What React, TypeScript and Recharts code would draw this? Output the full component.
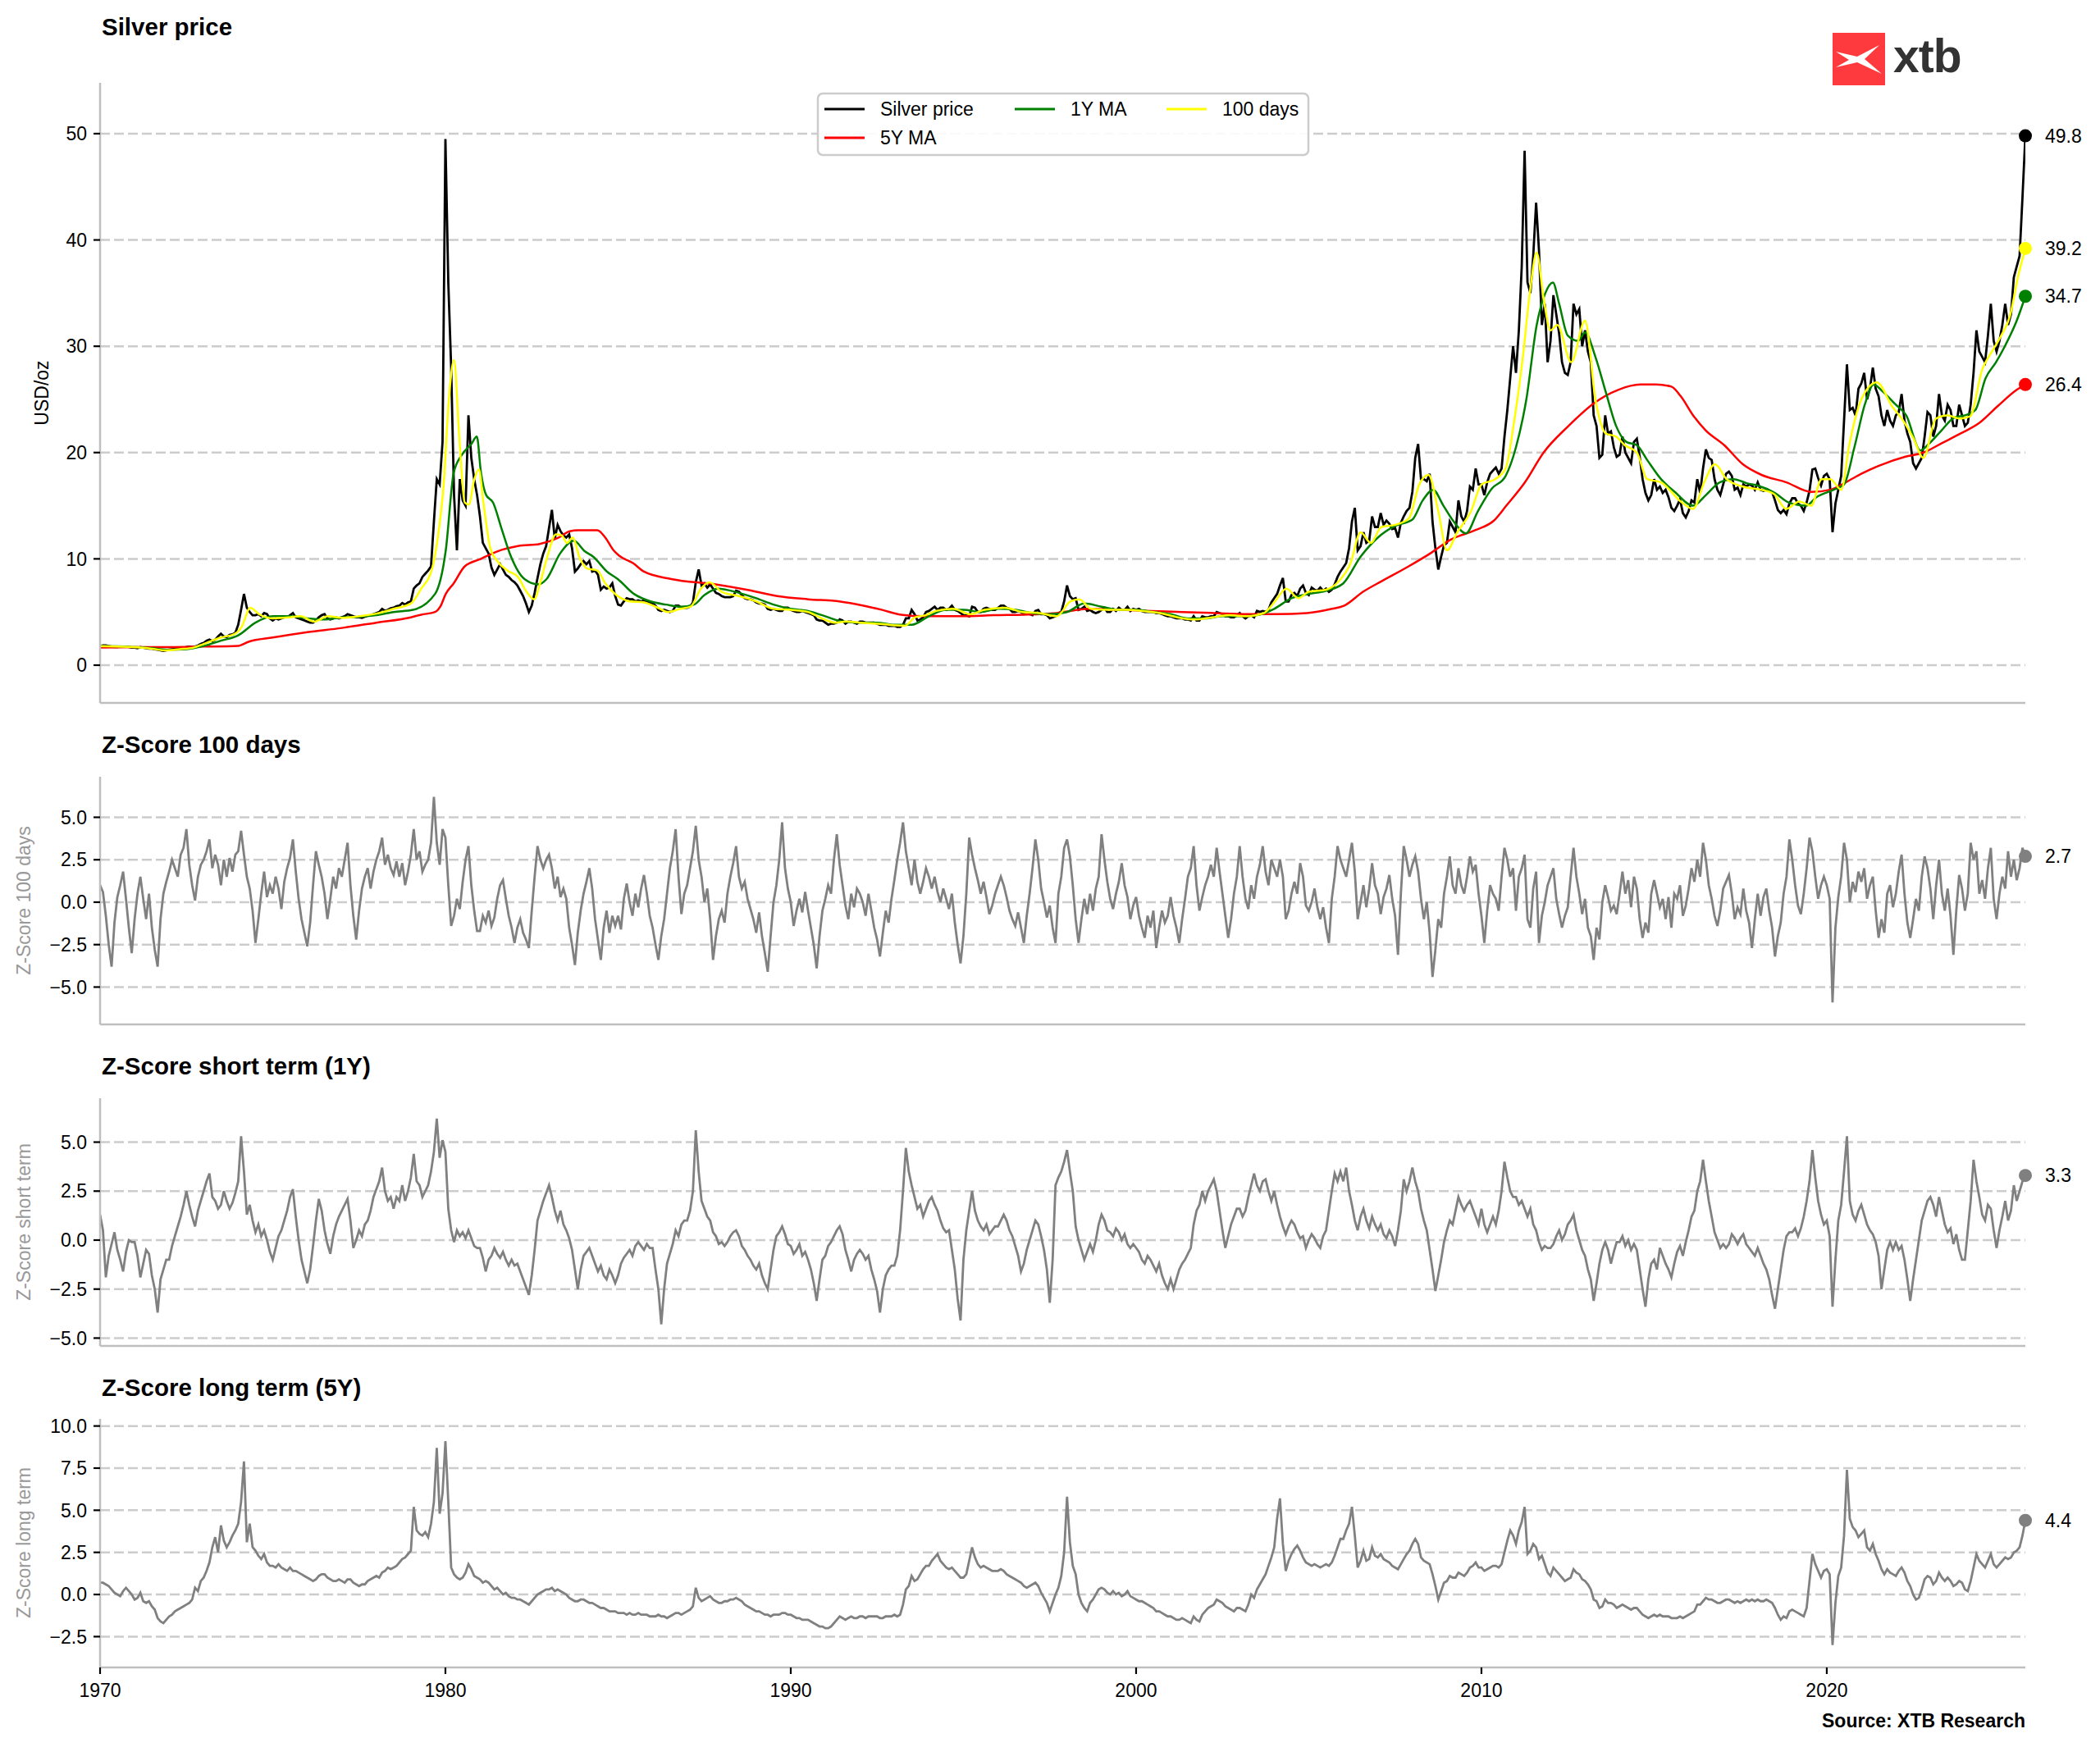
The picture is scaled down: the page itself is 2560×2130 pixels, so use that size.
import React from "react"
import { LineChart, Line, XAxis, YAxis, ReferenceLine, ReferenceDot } from "recharts"

const FONT = "'Liberation Sans', Arial, Helvetica, sans-serif"
const GRID = "#cccccc"
const SPINE = "#bfbfbf"
const ZGREY = "#808080"
const X0 = 1970
const X_END = 2025.75
const YEAR_TICKS = [1970, 1980, 1990, 2000, 2010, 2020]

// monthly silver price, Jan 1970 .. Oct 2025 (USD/oz)
const silverPrice = [
  1.8, 1.85, 1.85, 1.8, 1.75, 1.7, 1.7, 1.75, 1.75, 1.75, 1.7, 1.65, // 1970
  1.65, 1.6, 1.7, 1.65, 1.6, 1.55, 1.55, 1.5, 1.45, 1.4, 1.35, 1.4,
  1.45, 1.5, 1.55, 1.55, 1.6, 1.6, 1.7, 1.75, 1.7, 1.75, 1.85, 2.0,
  2.1, 2.3, 2.4, 2.25, 2.4, 2.7, 2.95, 2.7, 2.65, 2.85, 2.9, 3.05,
  3.8, 5.2, 6.7, 5.4, 5.0, 4.7, 4.7, 4.8, 4.6, 4.9, 4.8, 4.4,
  4.2, 4.4, 4.3, 4.4, 4.5, 4.5, 4.7, 4.9, 4.5, 4.4, 4.3, 4.2,
  4.1, 4.0, 4.0, 4.2, 4.5, 4.7, 4.8, 4.4, 4.3, 4.4, 4.5, 4.4,
  4.5, 4.6, 4.8, 4.7, 4.6, 4.5, 4.5, 4.45, 4.55, 4.65, 4.7, 4.8,
  4.9, 5.0, 5.3, 5.1, 5.2, 5.35, 5.4, 5.55, 5.6, 5.85, 5.7, 5.9,
  6.0, 7.2, 7.5, 7.7, 8.3, 8.6, 8.9, 9.3, 13.5, 17.5, 17.0, 21.0,
  49.5, 36.0, 28.0, 16.0, 10.8, 17.5, 15.5, 15.0, 23.5, 19.5, 17.5, 16.0, // 1980
  14.0, 11.5, 11.0, 10.5, 9.2, 8.5, 9.0, 9.5, 9.0, 8.5, 8.3, 8.0,
  7.8, 7.5, 7.0, 6.5, 5.8, 5.0, 5.6, 6.8, 8.2, 9.5, 10.5, 11.2,
  12.9, 14.6, 11.9, 13.2, 12.6, 12.2, 12.0, 12.3, 11.0, 8.8, 9.1, 9.5,
  9.8, 9.5, 9.8, 8.8, 8.9, 8.5, 7.1, 7.4, 7.2, 7.3, 7.7, 6.5,
  5.7, 5.6, 6.0, 6.3, 6.2, 6.2, 6.0, 6.1, 6.0, 6.1, 6.0, 5.9,
  5.8, 5.6, 5.2, 5.1, 5.2, 5.1, 5.0, 5.1, 5.6, 5.6, 5.4, 5.4,
  5.4, 5.5, 5.9, 7.8, 9.0, 7.5, 7.7, 7.3, 7.6, 7.2, 6.8, 6.7,
  6.5, 6.4, 6.4, 6.4, 6.5, 7.0, 6.9, 6.6, 6.3, 6.2, 6.2, 6.1,
  5.9, 5.8, 5.8, 5.7, 5.3, 5.2, 5.3, 5.2, 5.1, 5.1, 5.4, 5.4,
  5.2, 5.1, 5.0, 5.0, 5.1, 5.0, 4.9, 4.8, 4.7, 4.3, 4.2, 4.2, // 1990
  4.0, 3.8, 3.9, 3.9, 4.0, 4.3, 4.2, 3.9, 4.1, 4.1, 4.0, 3.9,
  4.1, 4.1, 4.0, 4.0, 4.0, 4.0, 3.9, 3.8, 3.8, 3.8, 3.7, 3.7,
  3.7, 3.6, 3.6, 3.8, 4.4, 4.4, 5.2, 4.8, 4.2, 4.3, 4.5, 5.0,
  5.1, 5.3, 5.5, 5.2, 5.4, 5.4, 5.2, 5.3, 5.6, 5.2, 5.1, 4.9,
  4.7, 4.7, 4.6, 5.5, 5.4, 5.0, 5.0, 5.3, 5.4, 5.3, 5.2, 5.2,
  5.4, 5.6, 5.6, 5.4, 5.3, 5.0, 5.0, 5.1, 5.0, 4.8, 4.9, 4.8,
  4.7, 5.1, 5.2, 4.8, 4.8, 4.7, 4.4, 4.5, 4.6, 4.9, 5.0, 6.0,
  7.5, 6.5, 6.2, 6.3, 5.2, 5.3, 5.5, 5.1, 5.2, 5.0, 4.9, 5.0,
  5.2, 5.4, 5.0, 5.0, 5.3, 5.1, 5.4, 5.2, 5.2, 5.5, 5.1, 5.3,
  5.2, 5.3, 5.1, 5.0, 5.0, 5.0, 5.0, 4.9, 4.9, 4.8, 4.7, 4.6, // 2000
  4.6, 4.5, 4.4, 4.4, 4.4, 4.3, 4.3, 4.2, 4.6, 4.2, 4.2, 4.6,
  4.5, 4.5, 4.6, 4.6, 5.0, 4.9, 4.8, 4.6, 4.6, 4.5, 4.5, 4.7,
  4.9, 4.6, 4.4, 4.6, 4.7, 4.5, 5.1, 5.0, 5.1, 5.0, 5.2, 5.9,
  6.3, 6.7, 7.5, 8.2, 6.0, 6.0, 6.6, 6.8, 6.5, 7.2, 7.5, 6.8,
  6.6, 7.3, 7.1, 7.0, 7.3, 7.0, 7.2, 6.9, 7.1, 7.6, 8.3, 8.8,
  9.2, 9.6, 11.0, 13.5, 14.8, 10.8, 11.2, 12.5, 11.5, 11.7, 14.0, 13.0,
  13.0, 14.3, 13.2, 13.6, 13.3, 12.8, 12.9, 12.0, 13.4, 14.0, 14.5, 14.8,
  16.3, 19.5, 20.8, 17.5, 17.5, 17.3, 18.0, 13.5, 11.0, 9.0, 10.2, 11.3,
  11.5, 13.5, 13.0, 12.5, 15.5, 14.0, 13.5, 14.5, 16.8, 16.5, 18.5, 17.0,
  17.0, 16.0, 17.2, 18.0, 18.3, 18.6, 18.0, 18.5, 21.5, 24.0, 27.0, 30.0, // 2010
  27.5, 31.5, 37.5, 48.4, 36.0, 35.0, 38.5, 43.5, 39.0, 32.0, 34.0, 28.5,
  30.5, 34.8, 33.0, 31.2, 28.5, 27.5, 27.3, 28.5, 34.0, 33.0, 33.5, 30.0,
  31.5, 29.5, 28.5, 23.5, 22.5, 19.5, 19.8, 23.5, 21.8, 22.0, 20.5, 19.6,
  19.8, 21.5, 20.0, 19.5, 19.0, 21.0, 21.3, 19.6, 17.5, 16.2, 15.5, 16.0,
  17.5, 16.5, 16.8, 16.2, 16.5, 15.8, 14.8, 14.5, 15.0, 15.6, 14.3, 13.9,
  14.5, 15.5, 15.3, 17.5, 16.2, 18.5, 20.3, 19.5, 19.3, 17.5, 16.5, 16.0,
  17.0, 18.0, 18.2, 17.8, 16.5, 16.7, 16.0, 17.0, 16.8, 17.0, 16.9, 16.5,
  17.2, 16.5, 16.4, 16.5, 16.4, 16.3, 15.5, 14.6, 14.3, 14.6, 14.2, 15.2,
  15.7, 15.7, 15.2, 15.0, 14.5, 15.3, 16.4, 18.4, 18.5, 17.6, 16.9, 17.8,
  18.0, 17.5, 12.5, 15.2, 16.5, 17.8, 23.0, 28.3, 24.0, 24.2, 23.5, 26.0, // 2020
  26.5, 27.5, 25.0, 26.0, 28.0, 26.0, 25.3, 23.5, 22.5, 24.0, 23.0, 22.5,
  23.5, 23.8, 25.5, 23.0, 21.8, 21.0, 19.0, 18.5, 19.0, 19.5, 21.5, 23.8,
  23.5, 21.5, 22.5, 25.5, 23.5, 23.0, 24.5, 24.0, 22.5, 22.5, 24.5, 23.5,
  22.5, 22.8, 24.5, 27.5, 31.5, 29.5, 29.0, 28.5, 31.0, 34.0, 30.5, 29.5,
  30.5, 32.0, 34.0, 32.0, 33.0, 36.5, 37.5, 38.5, 44.0, 49.8,
]

// moving averages as [year, value]
const ma100Days: [number, number][] = [
  [1970.0, 1.8], [1970.5, 1.75], [1971.0, 1.7], [1971.5, 1.55], [1971.9, 1.38], [1972.3, 1.5], [1972.7, 1.65],
  [1973.0, 2.0], [1973.5, 2.6], [1973.9, 2.95], [1974.1, 3.6], [1974.35, 5.4], [1974.6, 4.8], [1975.0, 4.4],
  [1975.5, 4.5], [1975.8, 4.6], [1976.2, 4.1], [1976.6, 4.6], [1977.0, 4.45], [1977.5, 4.6], [1978.0, 4.85],
  [1978.5, 5.3], [1979.0, 5.8], [1979.3, 7.2], [1979.6, 8.9], [1979.8, 12.5], [1979.95, 17.0], [1980.1, 25.0],
  [1980.25, 28.7], [1980.4, 21.5], [1980.56, 15.3], [1980.68, 15.1], [1980.83, 17.4], [1980.97, 18.4],
  [1981.1, 15.3], [1981.3, 11.0], [1981.5, 9.8], [1981.8, 8.9], [1982.1, 8.3], [1982.35, 6.9], [1982.57, 6.2],
  [1982.75, 7.8], [1982.95, 10.2], [1983.2, 12.3], [1983.37, 12.2], [1983.52, 11.5], [1983.68, 12.0],
  [1983.9, 10.0], [1984.1, 9.1], [1984.4, 8.9], [1984.63, 7.7], [1984.95, 6.6], [1985.35, 6.0], [1985.75, 5.9],
  [1986.15, 5.4], [1986.45, 5.0], [1986.8, 5.3], [1987.1, 5.5], [1987.4, 7.2], [1987.65, 7.8], [1988.0, 6.9],
  [1988.5, 6.5], [1989.0, 6.0], [1989.5, 5.3], [1990.0, 5.2], [1990.5, 5.0], [1990.9, 4.4], [1991.3, 4.0],
  [1991.6, 4.1], [1992.0, 4.0], [1992.5, 3.9], [1993.0, 3.75], [1993.3, 3.7], [1993.6, 4.5], [1993.9, 4.7],
  [1994.2, 5.1], [1994.7, 5.3], [1995.2, 4.8], [1995.6, 5.2], [1996.2, 5.4], [1996.7, 5.0], [1997.2, 4.9],
  [1997.7, 4.6], [1998.1, 6.0], [1998.35, 6.2], [1998.7, 5.3], [1999.2, 5.2], [1999.7, 5.2], [2000.2, 5.1],
  [2000.7, 4.9], [2001.2, 4.5], [2001.7, 4.3], [2002.2, 4.5], [2002.7, 4.7], [2003.2, 4.6], [2003.7, 4.9],
  [2004.0, 5.9], [2004.35, 7.2], [2004.7, 6.3], [2005.0, 6.9], [2005.5, 7.1], [2005.9, 8.0], [2006.2, 9.5],
  [2006.5, 12.5], [2006.8, 11.5], [2007.1, 13.0], [2007.5, 13.2], [2007.9, 13.8], [2008.2, 17.0],
  [2008.47, 17.9], [2008.75, 14.5], [2009.0, 10.8], [2009.3, 12.5], [2009.7, 14.5], [2010.0, 17.0],
  [2010.4, 17.5], [2010.7, 18.5], [2010.95, 23.0], [2011.2, 29.0], [2011.4, 35.0], [2011.6, 38.8],
  [2011.8, 34.5], [2012.0, 31.5], [2012.2, 32.0], [2012.6, 28.5], [2013.0, 32.4], [2013.3, 25.0],
  [2013.6, 21.8], [2013.9, 21.5], [2014.15, 20.7], [2014.5, 20.0], [2014.8, 17.5], [2015.2, 17.2],
  [2015.77, 15.4], [2016.13, 14.7], [2016.45, 17.2], [2016.76, 18.9], [2017.1, 17.5], [2017.57, 16.8],
  [2018.1, 16.5], [2018.47, 16.1], [2018.83, 14.7], [2019.2, 15.4], [2019.55, 15.0], [2019.85, 17.5],
  [2020.1, 17.5], [2020.42, 16.5], [2020.65, 20.7], [2021.0, 25.0], [2021.45, 26.6], [2021.9, 24.3],
  [2022.17, 23.2], [2022.5, 21.4], [2022.8, 19.5], [2023.16, 23.2], [2023.5, 23.5], [2023.85, 23.2],
  [2024.15, 23.4], [2024.5, 27.8], [2024.8, 29.6], [2025.05, 31.0], [2025.3, 32.8], [2025.55, 36.7],
  [2025.75, 39.2],
]

const ma1Y: [number, number][] = [
  [1970.0, 1.8], [1970.5, 1.78], [1971.0, 1.7], [1971.5, 1.6], [1972.0, 1.45], [1972.5, 1.5], [1973.0, 1.8],
  [1973.5, 2.3], [1974.0, 2.8], [1974.5, 4.0], [1975.0, 4.6], [1975.5, 4.6], [1976.0, 4.4], [1976.5, 4.3],
  [1977.0, 4.5], [1977.5, 4.55], [1978.0, 4.7], [1978.5, 5.0], [1979.06, 5.2], [1979.7, 6.7], [1980.01, 10.8],
  [1980.24, 18.1], [1980.48, 19.8], [1980.75, 20.8], [1980.91, 21.5], [1981.03, 18.1], [1981.18, 16.0],
  [1981.38, 15.3], [1981.62, 12.9], [1981.9, 10.2], [1982.29, 8.1], [1982.69, 7.6], [1982.93, 8.1],
  [1983.32, 10.5], [1983.72, 11.7], [1984.04, 10.7], [1984.28, 10.2], [1984.68, 8.8], [1984.99, 8.1],
  [1985.46, 6.7], [1985.94, 6.0], [1986.39, 5.7], [1986.8, 5.5], [1987.2, 5.7], [1987.5, 6.6], [1987.9, 7.2],
  [1988.5, 6.8], [1989.0, 6.3], [1989.5, 5.7], [1990.0, 5.3], [1990.5, 5.1], [1991.0, 4.6], [1991.5, 4.1],
  [1992.0, 4.0], [1992.5, 4.0], [1993.0, 3.8], [1993.5, 3.8], [1994.0, 4.6], [1994.5, 5.2], [1995.0, 5.2],
  [1995.5, 5.0], [1996.0, 5.3], [1996.5, 5.2], [1997.0, 4.9], [1997.5, 4.8], [1998.0, 5.0], [1998.5, 5.8],
  [1999.0, 5.5], [1999.5, 5.2], [2000.0, 5.2], [2000.5, 5.0], [2001.0, 4.8], [2001.5, 4.4], [2002.0, 4.4],
  [2002.5, 4.6], [2003.0, 4.6], [2003.5, 4.7], [2004.0, 5.3], [2004.5, 6.3], [2005.0, 6.7], [2005.5, 7.0],
  [2006.0, 7.7], [2006.5, 10.2], [2007.0, 12.0], [2007.5, 13.1], [2008.0, 13.7], [2008.3, 15.5],
  [2008.6, 16.5], [2008.9, 15.0], [2009.2, 13.5], [2009.55, 12.4], [2009.9, 14.5], [2010.3, 16.6],
  [2010.7, 17.8], [2011.0, 20.5], [2011.3, 25.0], [2011.6, 32.0], [2011.85, 35.0], [2012.07, 36.0],
  [2012.25, 34.0], [2012.5, 31.0], [2012.8, 30.5], [2013.0, 31.3], [2013.3, 29.0], [2013.6, 25.7],
  [2013.9, 22.5], [2014.2, 21.0], [2014.5, 20.7], [2014.8, 19.3], [2015.2, 17.5], [2015.6, 16.3],
  [2016.13, 15.0], [2016.5, 16.0], [2016.9, 17.2], [2017.3, 17.5], [2017.7, 17.1], [2018.0, 16.9],
  [2018.5, 16.2], [2018.9, 15.3], [2019.4, 15.0], [2019.7, 15.8], [2020.2, 16.5], [2020.5, 17.0],
  [2020.8, 20.5], [2021.1, 24.5], [2021.36, 26.4], [2021.6, 25.8], [2022.0, 24.5], [2022.3, 23.5],
  [2022.71, 20.2], [2022.95, 20.8], [2023.3, 22.0], [2023.7, 23.3], [2024.0, 23.5], [2024.3, 24.0],
  [2024.6, 27.0], [2024.9, 28.5], [2025.14, 29.9], [2025.5, 32.4], [2025.75, 34.7],
]

const ma5Y: [number, number][] = [
  [1970.0, 1.65], [1971.0, 1.7], [1972.0, 1.7], [1973.0, 1.75], [1974.0, 1.82], [1974.3, 2.2], [1975.0, 2.6],
  [1976.0, 3.1], [1977.0, 3.5], [1978.0, 4.0], [1979.0, 4.5], [1979.3, 4.75], [1979.7, 5.0], [1979.85, 5.5],
  [1980.01, 6.7], [1980.24, 7.7], [1980.56, 9.3], [1981.03, 10.0], [1981.5, 10.7], [1982.1, 11.2],
  [1982.73, 11.4], [1983.28, 12.0], [1983.6, 12.6], [1983.84, 12.7], [1984.4, 12.7], [1984.63, 12.0],
  [1984.87, 10.8], [1985.03, 10.3], [1985.43, 9.6], [1985.75, 8.8], [1986.54, 8.1], [1987.82, 7.6],
  [1988.72, 7.1], [1989.61, 6.5], [1990.5, 6.2], [1991.4, 6.0], [1992.11, 5.6], [1992.65, 5.2],
  [1993.19, 4.75], [1993.9, 4.6], [1994.97, 4.6], [1995.87, 4.7], [1996.76, 4.75], [1997.7, 4.9],
  [1998.64, 5.3], [1999.54, 5.2], [2000.44, 5.1], [2001.35, 5.0], [2002.25, 4.9], [2003.15, 4.8],
  [2004.05, 4.8], [2004.95, 4.9], [2005.67, 5.3], [2006.03, 5.6], [2006.57, 6.9], [2007.11, 7.9],
  [2007.84, 9.2], [2008.56, 10.6], [2009.1, 11.8], [2009.82, 12.7], [2010.36, 13.6], [2010.72, 15.0],
  [2011.26, 17.2], [2011.8, 20.0], [2012.52, 22.5], [2013.24, 24.6], [2013.96, 25.9], [2014.6, 26.4],
  [2015.05, 26.4], [2015.5, 26.2], [2015.77, 25.3], [2016.13, 23.5], [2016.49, 22.1], [2017.03, 20.7],
  [2017.57, 18.9], [2018.11, 17.9], [2018.83, 17.2], [2019.55, 16.3], [2020.1, 16.5], [2020.55, 17.2],
  [2021.0, 18.0], [2021.54, 18.8], [2022.26, 19.6], [2022.8, 20.0], [2023.34, 20.9], [2023.88, 21.8],
  [2024.42, 22.8], [2024.96, 24.4], [2025.5, 25.9], [2025.75, 26.4],
]

// monthly z-scores, Jan 1970 .. Oct 2025
const z100Days = [
  1.0, 0.6, -0.8, -2.5, -3.8, -1.2, 0.3, 1.0, 1.8, 0.2, -1.5, -3.0, // 1970
  -1.0, 0.5, 1.5, 0.2, -1.0, 0.5, -1.5, -2.8, -3.8, -1.0, 0.5, 1.2,
  1.8, 2.5, 2.0, 1.5, 2.8, 3.2, 4.3, 2.2, 1.0, 0.1, 1.5, 2.2,
  2.5, 3.0, 3.7, 2.0, 2.8, 2.2, 1.0, 2.5, 1.5, 2.6, 1.8, 2.8,
  3.0, 4.2, 2.8, 1.5, 0.8, -0.5, -2.4, -1.0, 0.5, 1.8, 0.3, 1.0,
  0.5, 1.5, 0.8, -0.4, 1.2, 2.0, 2.6, 3.7, 1.8, 0.2, -1.0, -1.8,
  -2.6, -1.2, 1.0, 3.0, 2.2, 1.5, 0.5, -1.0, 0.2, 1.5, 0.8, 2.0,
  1.5, 2.5, 3.5, 1.0, -0.8, -2.2, -0.5, 0.8, 1.5, 2.0, 0.8, 1.8,
  2.5, 3.0, 3.8, 2.2, 2.8, 2.0, 1.6, 2.4, 1.5, 2.3, 1.0, 1.8,
  2.8, 4.3, 2.5, 3.0, 1.8, 2.2, 2.5, 3.5, 6.2, 3.5, 2.2, 4.3,
  3.8, 1.0, -1.4, -0.8, 0.2, -0.4, 1.2, 2.5, 3.3, 1.0, -0.5, -1.7, // 1980
  -1.7, -0.8, -1.2, -0.5, -1.4, -0.9, 0.2, 1.0, 1.3, 0.2, -0.8, -1.5,
  -2.4, -1.5, -1.0, -1.8, -2.2, -2.7, -0.5, 1.5, 3.3, 2.5, 2.0, 2.5,
  2.8, 2.0, 0.8, 1.5, 0.3, 0.8, 0.2, -1.5, -2.5, -3.7, -1.8, -0.5,
  0.5, 1.2, 2.0, 0.8, -1.0, -2.2, -3.4, -1.5, -0.5, -1.8, -0.8, -1.4,
  -0.8, -1.6, 0.2, 1.1, 0.0, -0.8, 0.5, -0.3, 0.8, 1.6, 0.5, -0.8,
  -1.5, -2.5, -3.4, -2.0, -1.0, 0.5, 2.0, 3.0, 4.3, 1.5, -0.7, 0.5,
  1.0, 2.0, 3.0, 4.5, 2.5, 1.5, 0.0, 0.8, -1.0, -3.4, -2.0, -1.0,
  -0.5, -1.2, 0.5, 1.5, 2.3, 3.3, 1.5, 0.8, 1.2, 0.2, -0.4, -1.0,
  -1.8, -0.6, -2.0, -3.0, -4.1, -2.0, 0.0, 1.0, 2.5, 4.7, 2.0, 0.8,
  0.0, -1.4, -0.5, 0.2, -0.6, 0.6, -0.5, -1.5, -2.5, -3.9, -2.0, -0.5, // 1990
  0.2, 1.0, 0.5, 2.5, 4.0, 2.2, 1.0, -0.2, -1.0, 0.5, -0.3, 0.8,
  0.5, 0.0, -0.8, 0.5, -0.5, -1.5, -2.2, -3.2, -1.8, -0.5, -1.2, 0.2,
  1.3, 2.5, 3.5, 4.7, 3.0, 2.0, 1.0, 2.5, 1.2, 0.5, 1.2, 2.0,
  1.5, 0.8, 1.5, 0.6, 0.0, 0.8, 0.2, -0.4, 0.5, -1.2, -2.5, -3.6,
  -2.0, 0.5, 3.8, 2.8, 2.0, 1.3, 0.5, 1.2, 0.3, -0.7, -0.2, 0.5,
  1.0, 1.5, 1.0, 0.3, -0.5, -1.0, -1.4, -0.6, -1.5, -2.4, -0.8, 0.5,
  2.0, 3.7, 2.5, 0.8, 0.0, -0.9, -0.2, -1.5, -2.4, 0.5, 1.5, 3.2,
  3.7, 2.7, 1.0, -1.0, -2.4, -1.0, 0.2, -0.7, 0.5, -0.5, 0.8, 1.5,
  4.0, 2.5, 1.2, 0.2, -0.4, 0.5, 1.2, 2.3, 1.0, 0.3, -1.0, -0.2,
  0.3, -0.8, -1.5, -2.1, -0.8, -1.5, -0.5, -2.7, -1.5, -0.5, -1.2, -0.8, // 2000
  0.3, -0.8, -1.5, -2.4, -1.0, 0.2, 1.5, 2.0, 3.3, 1.0, -0.5, 0.3,
  1.0, 1.5, 2.2, 1.5, 3.2, 1.8, 0.5, -0.8, -2.1, -1.0, 0.5, 1.5,
  3.3, 1.5, 0.2, -0.4, 1.0, 0.2, 1.5, 2.2, 3.3, 1.8, 1.0, 2.5,
  2.0, 1.5, 2.5, 1.5, -1.0, -0.5, 0.5, 1.2, 0.5, 2.3, 1.5, -0.2,
  -0.5, 0.0, 0.8, -0.3, -1.0, -0.3, -1.5, -2.4, 0.2, 1.5, 3.3, 2.5,
  2.0, 1.5, 2.5, 3.5, 1.8, -1.0, 0.0, 1.0, -0.3, 0.8, 2.3, 1.0,
  0.5, -0.7, 0.3, 0.8, 1.6, 0.2, -0.8, -3.1, 0.5, 3.3, 2.5, 1.5,
  2.2, 2.7, 1.8, 0.2, -1.0, 0.0, -1.8, -4.4, -2.8, -1.0, -1.5, 0.5,
  1.5, 2.7, 1.0, 0.5, 2.0, 1.0, 0.5, 1.5, 2.7, 1.8, 2.2, 0.5,
  -0.8, -2.4, -0.5, 1.0, 0.5, 0.2, -0.5, 1.5, 3.2, 2.5, 1.5, 2.0, // 2010
  -0.5, 1.5, 2.0, 2.8, -1.0, -1.5, 0.8, 1.8, -2.4, -0.8, 0.0, 1.0,
  1.5, 2.0, 0.2, -0.7, -1.5, -0.8, -0.3, 1.5, 3.2, 1.5, 0.5, -0.7,
  0.2, -1.5, -2.0, -3.4, -1.5, -2.2, 0.0, 1.0, 0.3, -0.5, -0.2, -0.7,
  0.5, 1.8, 0.5, 1.3, -0.3, 1.5, 0.8, -1.0, -2.1, -1.2, -1.8, 0.5,
  1.3, 0.5, -0.3, 0.2, -1.0, 0.3, -1.5, 0.5, 0.2, 1.0, -0.8, -0.2,
  0.8, 2.0, 1.2, 2.5, 1.5, 3.5, 2.5, 1.0, 0.2, -0.8, -1.4, -0.5,
  0.8, 1.2, 1.6, 0.5, -1.0, -0.3, -0.7, 0.8, -0.5, -1.2, -2.7, -1.0,
  0.5, -0.8, 0.3, 0.8, -0.5, -1.5, -3.2, -2.0, -1.2, 0.5, 1.5, 3.7,
  2.5, 1.0, -0.2, -0.7, 0.5, 2.0, 3.8, 3.0, 1.5, 0.2, 1.0, 1.5,
  1.0, 0.2, -5.9, -1.5, 0.3, 1.5, 3.5, 2.5, 0.0, 1.2, 0.6, 1.8, // 2020
  1.2, 2.0, 0.2, 1.0, 1.5, -0.5, -2.1, -1.0, -1.8, 0.5, 1.0, -0.3,
  0.5, 1.8, 2.8, 0.5, -1.2, -2.1, -1.0, 0.2, -0.5, 1.5, 2.7, 2.0,
  0.8, -1.0, 1.0, 2.5, 0.5, -0.5, 0.8, -0.8, -3.1, -0.5, 1.6, 0.8,
  -0.5, 0.5, 3.5, 2.5, 3.0, 0.5, 1.3, 0.2, 2.0, 3.2, 0.2, -1.0,
  0.5, 1.5, 0.8, 3.0, 1.5, 2.5, 1.3, 2.0, 3.2, 2.7,
]

const zShortTerm = [
  1.3, 0.5, -1.9, -0.8, -0.2, 0.4, -0.5, -1.0, -1.6, -0.6, 0.0, -0.1, // 1970
  -0.1, -0.8, -1.9, -1.2, -0.5, -0.7, -1.8, -2.5, -3.7, -2.0, -1.5, -1.0,
  -1.0, -0.3, 0.2, 0.7, 1.2, 1.8, 2.5, 1.8, 1.2, 0.7, 1.5, 2.0,
  2.5, 3.0, 3.4, 2.2, 2.0, 1.6, 1.8, 2.5, 2.0, 1.6, 1.9, 2.4,
  3.0, 5.3, 3.5, 1.3, 1.8, 1.0, 0.4, 0.8, 0.2, 0.5, 0.0, -0.6,
  -1.0, -0.4, 0.2, 0.5, 1.0, 1.5, 2.2, 2.6, 1.2, 0.0, -1.0, -1.6,
  -2.2, -1.5, -0.3, 1.0, 2.1, 1.5, 0.5, -0.2, -0.7, 0.2, 0.8, 1.2,
  1.5, 1.8, 2.1, 1.0, -0.4, 0.0, 0.5, 0.2, 0.8, 1.0, 1.5, 2.2,
  2.6, 3.0, 3.7, 2.5, 2.0, 2.2, 1.6, 2.2, 2.0, 2.8, 2.0, 2.5,
  3.2, 4.4, 3.0, 2.8, 2.2, 2.5, 2.8, 3.5, 4.5, 6.2, 4.2, 5.1,
  4.5, 1.6, 0.5, -0.1, 0.5, 0.2, 0.4, 0.1, 0.5, 0.1, -0.3, -0.4, // 1980
  -0.4, -0.9, -1.6, -1.0, -0.8, -0.4, -0.7, -0.9, -0.6, -1.0, -1.3, -1.0,
  -1.3, -1.2, -1.6, -2.0, -2.4, -2.8, -1.8, -0.5, 1.0, 1.5, 2.0, 2.4,
  2.8, 2.2, 1.5, 1.0, 1.5, 0.8, 0.5, 0.1, -0.5, -1.5, -2.5, -1.5,
  -0.8, -0.6, -0.4, -0.8, -1.2, -1.6, -1.3, -1.8, -2.0, -1.5, -1.8, -2.2,
  -1.8, -1.2, -0.9, -0.7, -0.5, -0.8, -0.3, -0.1, -0.3, -0.5, -0.2, -0.4,
  -0.4, -1.5, -2.5, -4.3, -2.5, -1.2, -0.7, -0.2, 0.5, 0.2, 0.8, 1.0,
  1.0, 1.5, 2.5, 5.6, 3.5, 2.0, 1.6, 1.2, 1.0, 0.4, 0.2, -0.2,
  -0.1, -0.3, -0.1, 0.2, 0.4, 0.5, 0.2, -0.3, -0.5, -0.8, -1.0, -1.3,
  -1.5, -1.2, -1.8, -2.2, -2.5, -1.5, -0.5, 0.2, 0.4, 0.7, 0.3, -0.2,
  -0.3, -0.7, -0.5, -0.2, -0.8, -0.6, -1.0, -1.5, -2.2, -3.1, -2.0, -1.0, // 1990
  -0.8, -0.3, -0.1, 0.2, 0.5, 0.7, 0.3, -0.5, -1.0, -1.6, -1.0, -0.7,
  -0.5, -0.7, -1.0, -0.8, -1.5, -2.0, -2.6, -3.7, -2.5, -1.8, -1.5, -1.3,
  -1.3, -0.8, 0.5, 2.5, 4.7, 3.5, 2.8, 2.2, 1.6, 1.8, 1.2, 1.6,
  2.0, 2.2, 1.8, 1.5, 1.0, 0.6, 0.4, 0.5, -0.5, -1.5, -3.0, -4.1,
  -1.0, 0.5, 1.5, 2.5, 1.5, 1.0, 0.7, 0.5, 0.8, 0.3, 0.5, 0.7,
  0.7, 1.0, 1.3, 1.0, 0.5, 0.2, -0.3, -0.8, -1.6, -1.2, -0.5, 0.0,
  0.5, 1.0, 0.8, 0.2, -0.5, -1.5, -3.2, -1.0, 2.8, 3.2, 3.5, 4.0,
  4.6, 3.5, 2.5, 0.7, 0.0, -0.5, -1.0, -0.6, -0.2, -0.6, 0.0, 0.8,
  1.3, 1.0, 0.5, 0.4, 0.2, 0.6, 0.4, 0.0, 0.3, -0.2, -0.4, -0.2,
  -0.4, -0.6, -1.0, -1.2, -0.8, -1.0, -1.3, -1.6, -1.2, -1.8, -2.2, -2.5, // 2000
  -2.0, -2.5, -2.0, -1.5, -1.2, -1.0, -0.7, -0.4, 0.8, 1.5, 1.8, 2.5,
  2.0, 2.5, 2.8, 3.1, 2.5, 1.5, 0.5, -0.4, 0.2, 0.8, 1.2, 1.6,
  1.6, 1.2, 1.5, 2.2, 2.8, 3.4, 2.8, 2.5, 3.0, 3.1, 2.5, 2.0,
  2.5, 1.8, 1.2, 0.7, 0.3, 0.7, 1.0, 0.8, 0.4, 0.1, 0.2, -0.4,
  0.0, 0.3, 0.1, -0.2, -0.4, 0.2, 0.5, 1.5, 2.5, 3.4, 3.0, 3.5,
  3.0, 3.7, 2.5, 1.8, 1.0, 0.5, 1.2, 1.6, 1.0, 0.6, 1.2, 0.8,
  0.5, 0.8, 0.3, 0.1, 0.5, 0.2, -0.3, 0.5, 1.5, 3.1, 2.5, 3.0,
  3.7, 3.0, 2.5, 1.6, 1.0, 0.5, -0.5, -1.5, -2.6, -1.8, -1.0, -0.1,
  0.5, 1.0, 0.8, 1.5, 2.2, 1.8, 1.5, 1.8, 2.0, 1.6, 1.2, 0.8,
  1.6, 0.8, 0.4, 0.8, 1.2, 0.8, 1.5, 2.5, 4.0, 3.2, 2.5, 2.2, // 2010
  2.2, 1.8, 2.0, 1.6, 1.2, 1.6, 0.8, 0.5, -0.1, -0.5, -0.3, -0.4,
  -0.4, -0.2, 0.2, 0.5, 0.0, 0.3, 0.8, 1.0, 1.3, 0.5, 0.0, -0.5,
  -0.8, -1.5, -2.0, -3.1, -2.2, -1.2, -0.5, -0.1, -0.5, -1.2, -0.6, -0.1,
  -0.1, 0.2, -0.3, 0.0, -0.5, -0.2, -0.5, -1.5, -2.5, -3.4, -2.0, -1.2,
  -1.0, -1.5, -0.4, -0.8, -1.2, -1.5, -1.9, -1.2, -0.6, -0.3, -0.8, -0.1,
  0.5, 1.2, 1.5, 2.5, 3.0, 4.1, 3.0, 2.0, 1.2, 0.4, 0.0, -0.4,
  -0.2, -0.4, -0.2, 0.3, 0.1, -0.2, 0.1, 0.3, -0.2, -0.4, -0.6, -0.8,
  -0.4, -0.8, -1.2, -1.5, -2.0, -2.8, -3.5, -2.5, -1.5, -0.5, 0.2, 0.4,
  0.4, 0.6, 0.2, 0.6, 1.2, 2.0, 3.0, 4.6, 3.2, 2.0, 1.3, 0.8,
  1.0, 0.2, -3.4, -1.0, 1.0, 1.8, 3.5, 5.3, 2.0, 1.3, 1.0, 1.5, // 2020
  1.8, 1.3, 0.8, 0.5, 0.3, -0.1, -0.8, -2.5, -1.5, -0.5, -0.1, -0.5,
  -0.1, -0.5, -0.3, -1.0, -2.0, -3.1, -2.0, -1.0, 0.0, 1.0, 1.5, 2.0,
  2.2, 1.8, 1.2, 2.2, 1.5, 0.8, 0.4, 0.6, -0.2, 0.3, -0.5, -1.0,
  -1.0, 0.5, 2.0, 4.1, 3.0, 2.2, 1.3, 1.0, 1.8, 1.6, 0.5, -0.4,
  0.5, 1.2, 2.0, 1.0, 1.5, 2.8, 2.0, 2.5, 3.0, 3.3,
]

const zLongTerm = [
  0.7, 0.7, 0.6, 0.5, 0.3, 0.1, 0.0, -0.1, 0.2, 0.4, 0.2, 0.0, // 1970
  -0.3, -0.2, 0.1, -0.4, -0.5, -0.4, -0.7, -0.9, -1.4, -1.6, -1.7, -1.5,
  -1.3, -1.2, -1.0, -0.9, -0.8, -0.7, -0.6, -0.5, -0.3, 0.4, 0.2, 0.8,
  1.0, 1.4, 1.9, 2.8, 3.4, 2.5, 4.1, 3.2, 2.8, 3.1, 3.5, 3.8,
  4.2, 5.5, 7.9, 3.1, 4.2, 2.8, 2.6, 2.3, 2.1, 2.4, 1.9, 1.7,
  1.7, 1.6, 1.8, 1.6, 1.5, 1.4, 1.6, 1.4, 1.4, 1.3, 1.2, 1.1,
  1.0, 0.9, 0.8, 0.9, 1.1, 1.2, 1.2, 1.0, 0.9, 0.8, 0.8, 0.9,
  0.8, 0.7, 0.9, 0.9, 0.7, 0.6, 0.5, 0.6, 0.6, 0.8, 0.9, 1.0,
  1.1, 1.0, 1.3, 1.4, 1.6, 1.5, 1.6, 1.7, 1.9, 2.1, 2.2, 2.4,
  2.6, 5.2, 3.8, 3.6, 3.5, 3.7, 3.4, 4.2, 5.5, 8.7, 4.8, 6.0,
  9.1, 5.5, 1.6, 1.2, 1.0, 0.9, 1.0, 1.3, 1.8, 1.5, 1.1, 1.0, // 1980
  0.9, 0.7, 0.8, 0.7, 0.5, 0.3, 0.4, 0.2, 0.0, 0.1, -0.1, -0.2,
  -0.2, -0.3, -0.3, -0.4, -0.5, -0.6, -0.4, -0.2, 0.0, 0.1, 0.2, 0.3,
  0.3, 0.4, 0.2, 0.3, 0.2, 0.1, 0.0, -0.2, -0.3, -0.4, -0.4, -0.3,
  -0.3, -0.4, -0.5, -0.5, -0.6, -0.7, -0.8, -0.8, -0.9, -1.0, -1.0, -1.0,
  -1.1, -1.1, -1.1, -1.2, -1.1, -1.2, -1.2, -1.1, -1.2, -1.2, -1.2, -1.3,
  -1.3, -1.3, -1.2, -1.3, -1.3, -1.4, -1.3, -1.2, -1.1, -1.1, -1.2, -1.1,
  -1.0, -0.9, -0.7, 0.4, -0.2, -0.4, -0.3, -0.2, -0.1, -0.3, -0.4, -0.5,
  -0.5, -0.4, -0.4, -0.3, -0.3, -0.2, -0.3, -0.4, -0.6, -0.7, -0.8, -0.9,
  -1.0, -1.0, -1.1, -1.2, -1.2, -1.3, -1.2, -1.2, -1.2, -1.1, -1.1, -1.2,
  -1.2, -1.3, -1.4, -1.4, -1.5, -1.5, -1.5, -1.6, -1.7, -1.8, -1.9, -1.9, // 1990
  -2.0, -2.0, -1.9, -1.7, -1.5, -1.3, -1.4, -1.5, -1.4, -1.3, -1.4, -1.4,
  -1.3, -1.3, -1.4, -1.3, -1.3, -1.3, -1.3, -1.4, -1.4, -1.3, -1.3, -1.3,
  -1.2, -1.3, -1.2, -0.6, 0.3, 0.5, 1.1, 0.8, 0.9, 1.2, 1.5, 1.7,
  1.7, 2.0, 2.2, 2.4, 2.0, 1.8, 1.6, 1.5, 1.6, 1.4, 1.2, 1.0,
  1.0, 1.2, 2.0, 2.8, 2.2, 1.8, 1.6, 1.7, 1.6, 1.5, 1.4, 1.4,
  1.4, 1.5, 1.4, 1.2, 1.1, 1.0, 0.9, 0.8, 0.7, 0.5, 0.4, 0.5,
  0.6, 0.7, 0.5, 0.1, -0.2, -0.5, -1.0, -0.5, 0.0, 0.4, 1.1, 2.5,
  5.8, 3.1, 1.7, 1.2, 0.0, -0.5, -0.8, -1.0, -0.5, -0.3, 0.0, 0.3,
  0.4, 0.3, 0.1, 0.0, 0.2, 0.0, 0.1, -0.1, 0.0, 0.2, -0.1, -0.2,
  -0.3, -0.4, -0.4, -0.5, -0.6, -0.7, -0.8, -1.0, -1.0, -1.1, -1.2, -1.3, // 2000
  -1.3, -1.4, -1.5, -1.5, -1.4, -1.5, -1.6, -1.7, -1.3, -1.5, -1.6, -1.2,
  -1.0, -0.8, -0.7, -0.6, -0.3, -0.4, -0.5, -0.7, -0.8, -0.9, -1.0, -0.8,
  -0.8, -0.9, -1.0, -0.6, 0.0, -0.2, 0.3, 0.6, 0.9, 1.2, 1.7, 2.2,
  2.8, 4.5, 5.7, 3.0, 1.4, 2.0, 2.4, 2.7, 2.9, 2.6, 2.2, 1.9,
  1.8, 1.7, 1.8, 1.7, 1.6, 1.7, 1.8, 1.7, 1.9, 2.3, 2.8, 3.3,
  3.3, 3.8, 4.2, 5.2, 3.5, 1.6, 2.0, 2.6, 2.0, 2.1, 2.8, 2.3,
  2.2, 2.4, 2.1, 2.0, 1.9, 1.7, 1.6, 1.5, 1.8, 2.1, 2.4, 2.6,
  3.0, 3.3, 3.0, 2.2, 2.0, 1.9, 1.8, 1.2, 0.5, -0.3, 0.2, 0.7,
  0.8, 1.1, 1.0, 1.0, 1.3, 1.2, 1.1, 1.3, 1.6, 1.7, 1.9, 1.6,
  1.6, 1.4, 1.5, 1.6, 1.7, 1.7, 1.6, 1.8, 2.5, 3.2, 3.8, 3.5, // 2010
  3.0, 3.8, 4.3, 5.2, 2.4, 2.6, 3.0, 2.8, 2.1, 2.3, 1.8, 1.3,
  1.1, 1.6, 1.4, 1.2, 1.0, 0.8, 0.9, 1.0, 1.5, 1.3, 1.2, 0.9,
  0.8, 0.6, 0.3, -0.3, -0.4, -0.8, -0.7, -0.3, -0.5, -0.5, -0.6, -0.8,
  -0.7, -0.6, -0.7, -0.8, -0.9, -0.8, -0.8, -1.0, -1.2, -1.3, -1.4, -1.3,
  -1.2, -1.3, -1.2, -1.3, -1.3, -1.3, -1.4, -1.4, -1.4, -1.3, -1.4, -1.3,
  -1.2, -1.1, -1.0, -0.6, -0.6, -0.4, -0.2, -0.3, -0.3, -0.4, -0.5, -0.5,
  -0.4, -0.3, -0.3, -0.4, -0.5, -0.4, -0.5, -0.4, -0.3, -0.4, -0.3, -0.4,
  -0.3, -0.4, -0.4, -0.3, -0.4, -0.5, -0.8, -1.2, -1.5, -1.3, -1.4, -1.0,
  -0.9, -1.0, -1.1, -1.2, -1.3, -0.8, 0.8, 2.4, 1.8, 1.4, 1.0, 1.4,
  1.5, 1.2, -3.0, -0.5, 1.1, 1.6, 3.5, 7.4, 4.5, 4.0, 3.8, 3.4, // 2020
  3.6, 3.8, 2.8, 2.6, 3.0, 2.4, 2.0, 1.5, 1.2, 1.5, 1.3, 1.2,
  1.1, 1.4, 1.6, 1.3, 0.8, 0.5, 0.0, -0.3, -0.2, 0.3, 0.9, 1.1,
  1.0, 0.6, 0.8, 1.3, 1.0, 0.8, 1.0, 0.8, 0.5, 0.6, 0.8, 0.7,
  0.3, 0.2, 0.8, 1.6, 2.4, 2.0, 1.8, 1.6, 2.0, 2.4, 1.8, 1.6,
  1.8, 2.0, 2.2, 2.1, 2.2, 2.5, 2.6, 2.8, 3.5, 4.4,
]

const PRICE_TICKS = [0, 10, 20, 30, 40, 50]
const Z_TICKS = [-5, -2.5, 0, 2.5, 5]
const Z_LONG_TICKS = [-2.5, 0, 2.5, 5, 7.5, 10]

const monthly = (vals: number[]) => vals.map((y, i) => ({ x: X0 + i / 12, y }))
const pairs = (vals: [number, number][]) => vals.map(([x, y]) => ({ x, y }))
const last = (vals: number[]) => vals[vals.length - 1]

const priceData = monthly(silverPrice)
const ma100Data = pairs(ma100Days)
const ma1Data = pairs(ma1Y)
const ma5Data = pairs(ma5Y)
const z100Data = monthly(z100Days)
const zShortData = monthly(zShortTerm)
const zLongData = monthly(zLongTerm)

const fmtInt = (v: number) => String(v)
const fmtDec = (v: number) => v.toFixed(1).replace("-", "\u2212")

const tickText = { fill: "#000", fontSize: 23, fontFamily: FONT }

const endDot = (y: number, color: string) => (
  <ReferenceDot
    key={color + y}
    x={X_END}
    y={y}
    r={8}
    fill={color}
    stroke="none"
    ifOverflow="visible"
    label={{ value: y.toFixed(1), position: "right", offset: 16, fill: "#000", fontSize: 23, fontFamily: FONT }}
  />
)

// dashed horizontal grid drawn at the tick values only
const gridLines = (ticks: number[]) =>
  ticks.map((t) => <ReferenceLine key={"g" + t} y={t} stroke={GRID} strokeWidth={2.5} strokeDasharray="12 5" />)

const Panel = ({ plotTop, plotBottom, domain, ticks, fmt, years, children }: any) => {
  const mt = 40
  const xh = years ? 70 : 20
  const h = mt + (plotBottom - plotTop) + xh
  return (
    <div style={{ position: "absolute", left: 0, top: plotTop - mt }}>
      <LineChart width={2560} height={h} margin={{ top: mt, right: 91, bottom: 0, left: 0 }}>
        <XAxis
          dataKey="x"
          type="number"
          domain={[X0, X_END]}
          ticks={YEAR_TICKS}
          interval={0}
          allowDataOverflow
          height={xh}
          tickSize={8}
          tickMargin={12}
          axisLine={{ stroke: SPINE, strokeWidth: 2.5 }}
          tickLine={{ stroke: "#000", strokeWidth: 2.2 }}
          tick={years ? tickText : false}
        />
        <YAxis
          type="number"
          domain={domain}
          ticks={ticks}
          interval={0}
          allowDataOverflow
          width={122}
          tickSize={8}
          tickMargin={8}
          tickFormatter={fmt}
          axisLine={{ stroke: SPINE, strokeWidth: 2.5 }}
          tickLine={{ stroke: "#000", strokeWidth: 2.2 }}
          tick={tickText}
        />
        {gridLines(ticks)}
        {children}
      </LineChart>
    </div>
  )
}

const LegendItem = ({ x, y, color, text }: { x: number; y: number; color: string; text: string }) => (
  <g>
    <line x1={x} x2={x + 49} y1={y} y2={y} stroke={color} strokeWidth={3} />
    <text x={x + 68} y={y} dominantBaseline="central" fontSize={23} fill="#000">
      {text}
    </text>
  </g>
)

export default function App() {
  return (
    <div style={{ position: "absolute", left: 0, top: 0, width: 2560, height: 2130, background: "#fff", overflow: "hidden" }}>
      <Panel plotTop={101} plotBottom={857} domain={[-3.55, 54.78]} ticks={PRICE_TICKS} fmt={fmtInt}>
        <Line data={priceData} dataKey="y" type="linear" stroke="#000" strokeWidth={2.8} dot={false} isAnimationActive={false} />
        <Line data={ma5Data} dataKey="y" type="monotone" stroke="#ff0000" strokeWidth={2.5} dot={false} isAnimationActive={false} />
        <Line data={ma1Data} dataKey="y" type="monotone" stroke="#008000" strokeWidth={2.5} dot={false} isAnimationActive={false} />
        <Line data={ma100Data} dataKey="y" type="monotone" stroke="#ffff00" strokeWidth={2.5} dot={false} isAnimationActive={false} />
        {endDot(last(silverPrice), "#000")}
        {endDot(39.2, "#ffff00")}
        {endDot(34.7, "#008000")}
        {endDot(26.4, "#ff0000")}
      </Panel>
      <Panel plotTop={947} plotBottom={1249} domain={[-7.2, 7.39]} ticks={Z_TICKS} fmt={fmtDec}>
        <Line data={z100Data} dataKey="y" type="linear" stroke={ZGREY} strokeWidth={2.8} dot={false} isAnimationActive={false} />
        {endDot(last(z100Days), ZGREY)}
      </Panel>
      <Panel plotTop={1339} plotBottom={1641} domain={[-5.4, 7.24]} ticks={Z_TICKS} fmt={fmtDec}>
        <Line data={zShortData} dataKey="y" type="linear" stroke={ZGREY} strokeWidth={2.8} dot={false} isAnimationActive={false} />
        {endDot(last(zShortTerm), ZGREY)}
      </Panel>
      <Panel plotTop={1730} plotBottom={2033} domain={[-4.33, 10.42]} ticks={Z_LONG_TICKS} fmt={fmtDec} years>
        <Line data={zLongData} dataKey="y" type="linear" stroke={ZGREY} strokeWidth={2.8} dot={false} isAnimationActive={false} />
        {endDot(last(zLongTerm), ZGREY)}
      </Panel>

      <svg width={2560} height={2130} style={{ position: "absolute", left: 0, top: 0, pointerEvents: "none" }} fontFamily={FONT}>
        <g fontWeight="bold" fontSize={29.5} fill="#000">
          <text x={124} y={43}>Silver price</text>
          <text x={124} y={918}>Z-Score 100 days</text>
          <text x={124} y={1310}>Z-Score short term (1Y)</text>
          <text x={124} y={1702}>Z-Score long term (5Y)</text>
        </g>

        <text transform="translate(51,479) rotate(-90)" textAnchor="middle" dominantBaseline="central" fontSize={23} fill="#000">
          USD/oz
        </text>
        <g fontSize={23} fill="#999999" textAnchor="middle" dominantBaseline="central">
          <text transform="translate(29,1098) rotate(-90)">Z-Score 100 days</text>
          <text transform="translate(29,1490) rotate(-90)">Z-Score short term</text>
          <text transform="translate(29,1881) rotate(-90)">Z-Score long term</text>
        </g>

        {/* legend */}
        <rect x={997} y={114} width={598} height={75} rx={6} fill="#fff" fillOpacity={0.9} stroke="#cccccc" strokeWidth={2.5} />
        <LegendItem x={1005} y={133} color="#000" text="Silver price" />
        <LegendItem x={1237} y={133} color="#008000" text="1Y MA" />
        <LegendItem x={1422} y={133} color="#ffff00" text="100 days" />
        <LegendItem x={1005} y={168} color="#ff0000" text="5Y MA" />

        {/* logo */}
        <rect x={2234} y={40} width={64} height={64} fill="#fe3a3e" />
        <path transform="translate(2234,40)" d="M 4 23 L 30 29 L 57 15 L 39 32 L 60 50 L 30 36 L 4 42 L 20 33 Z" fill="#fff" />
        <text x={2308} y={88} fontSize={57} fontWeight="bold" fill="#333333" letterSpacing={-1}>
          xtb
        </text>

        <text x={2469} y={2106} textAnchor="end" fontSize={23} fontWeight="bold" fill="#000">
          Source: XTB Research
        </text>
      </svg>
    </div>
  )
}
